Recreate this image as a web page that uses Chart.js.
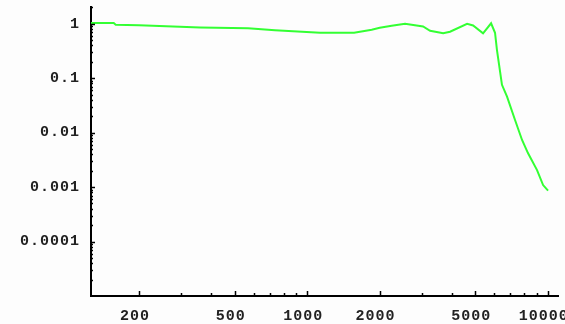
<!DOCTYPE html>
<html>
<head>
<meta charset="utf-8">
<script src="https://cdn.jsdelivr.net/npm/chart.js@4"></script>
<style>
  html, body { margin: 0; padding: 0; background: #fdfdfd; }
  #wrap { width: 565px; height: 324px; }
</style>
</head>
<body>
<div id="wrap"><canvas id="chart" width="565" height="324"></canvas></div>
<script>
// frequency (x) and response (y)
const freqs = [126, 157, 160, 200, 359, 568, 735, 1132, 1567, 1856, 2004, 2246, 2553, 3034, 3245,
  3677, 3927, 4624, 4898, 5387, 5818, 6042, 6153, 6457, 6778, 7317, 7826, 8280, 9033, 9572, 10037];
const amps = [1.03, 1.03, 0.96, 0.94, 0.855, 0.826, 0.759, 0.683, 0.683, 0.775, 0.844, 0.919, 1.0, 0.892, 0.743,
  0.668, 0.712, 1.0, 0.93, 0.668, 1.02, 0.683, 0.332, 0.0755, 0.0459, 0.0171, 0.00733, 0.00422, 0.00205, 0.00109, 0.00086];

const xLabels = [200, 500, 1000, 2000, 5000, 10000];
const xMinor = [300, 400, 600, 700, 800, 900, 3000, 4000, 6000, 7000, 8000, 9000];
const yLabels = [1, 0.1, 0.01, 0.001, 0.0001];

const yMinor = [];
[1e-5, 1e-4, 1e-3, 1e-2, 1e-1, 1].forEach(d => {
  for (let k = 2; k <= 9; k++) if (d * k <= 2) yMinor.push(d * k);
});

const tickFont = { family: 'Liberation Mono', size: 15, weight: 'bold' };

// inward tick marks like the original
const innerTicks = {
  id: 'innerTicks',
  beforeDraw(chart) { chart.ctx.letterSpacing = '1px'; },
  afterDraw(chart) {
    const { ctx, chartArea: a, scales: { x, y } } = chart;
    ctx.save();
    ctx.strokeStyle = '#000';
    ctx.lineWidth = 1.5;
    const xt = (v, len) => {
      const p = Math.round(x.getPixelForValue(v)) + 0.5;
      ctx.beginPath(); ctx.moveTo(p, a.bottom); ctx.lineTo(p, a.bottom - len); ctx.stroke();
    };
    const yt = (v, len) => {
      const p = Math.round(y.getPixelForValue(v)) + 0.5;
      ctx.beginPath(); ctx.moveTo(a.left, p); ctx.lineTo(a.left + len, p); ctx.stroke();
    };
    xLabels.forEach(v => xt(v, 5));
    xMinor.forEach(v => xt(v, 3));
    yLabels.forEach(v => yt(v, 4));
    yMinor.forEach(v => yt(v, 2));
    ctx.restore();
  }
};

new Chart(document.getElementById('chart'), {
  type: 'line',
  data: {
    datasets: [{
      data: freqs.map((f, i) => ({ x: f, y: amps[i] })),
      borderColor: '#33ff33',
      borderWidth: 2,
      pointRadius: 0,
      tension: 0,
      fill: false
    }]
  },
  options: {
    animation: false,
    responsive: false,
    layout: { autoPadding: false, padding: { top: 7, right: 7, left: 0, bottom: 0 } },
    plugins: { legend: { display: false }, tooltip: { enabled: false } },
    scales: {
      x: {
        type: 'logarithmic',
        min: 126.3,
        max: 11040,
        afterBuildTicks: s => { s.ticks = xLabels.map(v => ({ value: v })); },
        afterFit: s => { s.height = 28; s.paddingLeft = 0; s.paddingRight = 0; },
        ticks: { color: '#222', font: tickFont, padding: 11, labelOffset: -4, maxRotation: 0, autoSkip: false,
          callback: v => String(v) },
        grid: { display: true, drawOnChartArea: false, drawTicks: false },
        border: { color: '#000', width: 2 }
      },
      y: {
        type: 'logarithmic',
        min: 1e-5,
        max: 2.03,
        afterBuildTicks: s => { s.ticks = yLabels.map(v => ({ value: v })); },
        afterFit: s => { s.width = 91; s.paddingTop = 0; s.paddingBottom = 0; },
        ticks: { color: '#222', font: tickFont, padding: 11, autoSkip: false,
          callback: v => String(v) },
        grid: { display: true, drawOnChartArea: false, drawTicks: false },
        border: { color: '#000', width: 2 }
      }
    }
  },
  plugins: [innerTicks]
});
</script>
</body>
</html>
